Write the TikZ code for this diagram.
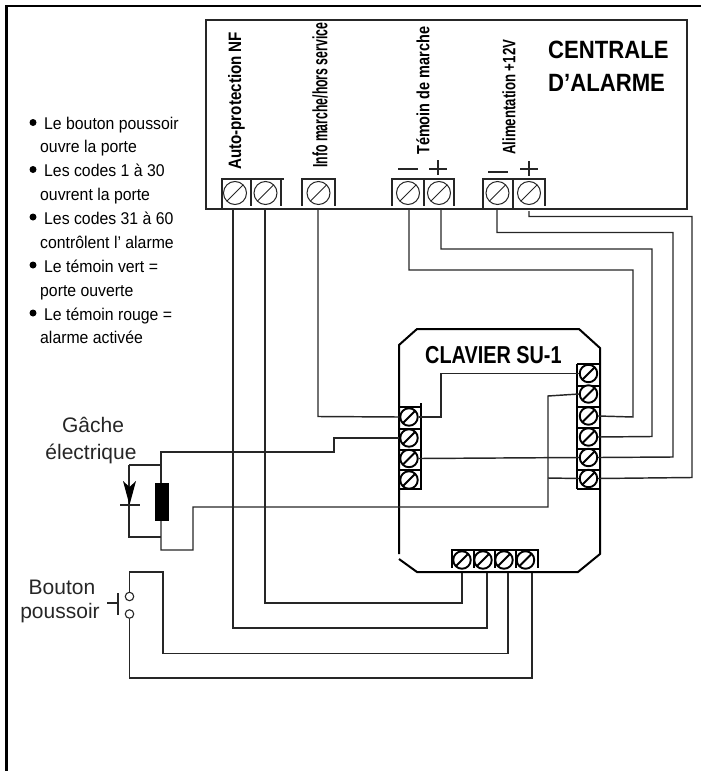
\documentclass[tikz,border=0pt]{standalone}
\usepackage{graphicx}
\usepackage{fontspec}
\setmainfont{Liberation Sans}
\newfontfamily\narrowf[FakeStretch=0.93]{Liberation Sans}
\newfontfamily\titlef[FakeStretch=0.885]{Liberation Sans Bold}
\newfontfamily\clavf[FakeStretch=0.81]{Liberation Sans Bold}
\newfontfamily\vertf{Liberation Sans Bold}
\tikzset{
  wire/.style={line width=1.45pt,draw=black!85},
  thinbox/.style={line width=1.2pt,draw=black!85},
  screw/.style={circle,draw=black!85,line width=1pt,minimum size=23pt,inner sep=0pt,
    path picture={\draw[line width=1pt,draw=black!85] (path picture bounding box.south west) -- (path picture bounding box.north east);}},
  kscrew/.style={circle,draw=black,fill=white,line width=1.9pt,minimum size=17.5pt,inner sep=0pt,
    path picture={\draw[line width=2pt] (path picture bounding box.south west) -- (path picture bounding box.north east);}},
  vlabel/.style={rotate=90,anchor=west,inner sep=0pt,font=\vertf},
  bullettext/.style={anchor=base west,inner sep=0pt,font=\narrowf\fontsize{17}{17}\selectfont},
  bigtitle/.style={anchor=base west,inner sep=0pt,font=\titlef\fontsize{25}{25}\selectfont},
  sidelabel/.style={anchor=base,inner sep=0pt,font=\fontsize{21}{21}\selectfont,text=black!85},
  dot/.style={circle,fill=black,minimum size=7pt,inner sep=0pt},
  contact/.style={circle,draw=black!85,line width=1.1pt,minimum size=8.5pt,inner sep=0pt},
  coil/.style={rectangle,fill=black,minimum width=14pt,minimum height=38pt,inner sep=0pt},
}
\begin{document}
\begin{tikzpicture}[x=1pt,y=-1pt]
\useasboundingbox (0,0) rectangle (701,771);
% page frame
\coordinate (fa) at (701,6);
\coordinate (fb) at (6.5,6);
\coordinate (fc) at (6.5,771);
\draw[line width=2.8pt] (fa) -- (fb) -- (fc);

% centrale box
\node[thinbox,rectangle,minimum width=481pt,minimum height=189pt,inner sep=0pt] (centrale) at (446.5,114.5) {};
\node[bigtitle] (t1) at (548,58) {CENTRALE};
\node[bigtitle] (t2) at (548,91) {D’ALARME};

% vertical labels
\node[vlabel] (v1) at (236.5,170) {\resizebox{138pt}{13pt}{Auto-protection NF}};
\node[vlabel] (v2) at (320,168) {\resizebox{145pt}{15pt}{Info marche/hors service}};
\node[vlabel] (v3) at (423,155) {\resizebox{128pt}{13pt}{Témoin de marche}};
\node[vlabel] (v4) at (509,155) {\resizebox{115pt}{13pt}{Alimentation +12V}};

% centrale terminals
\draw[thinbox] (222,209) |- (284,179) (251,179) -- (251,206) (281,179) -- (281,206);
\draw[thinbox] (302,206) |- (335,179) -- (335,206);
\draw[thinbox] (392,206) |- (455,179) (424,179) -- (424,206) (454,179) -- (454,206);
\draw[thinbox] (483,209) |- (546,179) (513,179) -- (513,209) (545,179) -- (545,206);
\node[screw] (c1) at (235,193) {};
\node[screw] (c2) at (265.5,193) {};
\node[screw] (c3) at (318.5,193) {};
\node[screw] (c4) at (408,193) {};
\node[screw] (c5) at (439,193) {};
\node[screw] (c6) at (497.5,193) {};
\node[screw] (c7) at (529,193) {};
% polarity marks
\draw[thinbox] (398,169) -- (418,169) (429,169) -- (447,169) (438,160) -- (438,175);
\draw[thinbox] (488,172) -- (508,172) (520,169) -- (538,169) (529,161) -- (529,176);

% wire starts
\coordinate (w1) at (233,209);
\coordinate (w2) at (265,209);
\coordinate (w3) at (318,209);
\coordinate (w4) at (409,209);
\coordinate (w5) at (441,209);
\coordinate (w6) at (497,209);
\coordinate (w7) at (529,211);

% clavier outline
\draw[line width=2pt] (399,554) -- (399,345) -- (417,329) -- (579,329) -- (600,348) -- (600,554) -- (578,572) -- (417,572) -- (399,559);
\node[anchor=base west,inner sep=0pt,font=\clavf\fontsize{24.5}{24.5}\selectfont] (clav) at (425,363) {CLAVIER SU-1};

% clavier left strip
\draw[line width=2pt] (399,407) -- (421,407) (420.5,403) -- (420.5,489) (399,428.5) -- (421,428.5) (399,449.5) -- (421,449.5) (399,470) -- (421,470) (399,489) -- (422,489);
\node[kscrew] (l1) at (409,417) {};
\node[kscrew] (l2) at (409,438) {};
\node[kscrew] (l3) at (409,458.5) {};
\node[kscrew] (l4) at (409,480) {};
% clavier right strip
\draw[line width=2pt] (577,364) -- (577,489) (577,364) -- (600,364) (577,386) -- (600,386) (577,407) -- (600,407) (577,428) -- (600,428) (577,449) -- (600,449) (577,470) -- (600,470) (577,489) -- (600,489);
\node[kscrew] (r1) at (588.5,373.5) {};
\node[kscrew] (r2) at (588.5,394) {};
\node[kscrew] (r3) at (588.5,416) {};
\node[kscrew] (r4) at (588.5,437) {};
\node[kscrew] (r5) at (588.5,457.5) {};
\node[kscrew] (r6) at (588.5,478.5) {};
% clavier bottom strip
\draw[line width=2pt] (452,568) |- (538,550) -- (538,568) (474,550) -- (474,568) (495,550) -- (495,568) (516,550) -- (516,568);
\node[kscrew] (b1) at (462,560) {};
\node[kscrew] (b2) at (483,560) {};
\node[kscrew] (b3) at (504,560) {};
\node[kscrew] (b4) at (525.5,560) {};
\coordinate (b1s) at (462,573);
\coordinate (b2s) at (487,573);
\coordinate (b3s) at (508,573);
\coordinate (b4s) at (532,573);

% strike
\node[sidelabel] (g1) at (93,432) {Gâche};
\node[sidelabel] (g2) at (91,459) {électrique};
\node[coil] (coil) at (162,502) {};
\coordinate (d1) at (129,465);
\coordinate (d2) at (129,537);
\coordinate (n1) at (161,465);
\coordinate (n2) at (161,537);
\draw[wire] (d1) -- (n1) (d1) -- (d2) -- (n2);
\fill (123,481) -- (129.5,487) -- (136,481) -- (129.5,505) -- cycle;
\draw[wire] (120,505) -- (140,505);
\draw[wire] (l2.west) -- (334,438) -- (334,452) -- (161,452) -- (coil.north -| 161,0);
\draw[wire] (coil.south -| 161,0) -- (161,550) -- (193,550) -- (193,507) -- (548,507) -- (548,396) -- (r2.west);
\draw[wire] (548,478) -- (r6.west);

% push button
\node[sidelabel] (p1) at (62,594) {Bouton};
\node[sidelabel] (p2) at (60,618) {poussoir};
\node[contact] (k1) at (129.5,596.5) {};
\node[contact] (k2) at (129.5,614) {};
\draw[thinbox] (118,593) -- (118,615) (107,603) -- (118,603);
\draw[wire] (k1.north) -- (129.5,572) -- (163,572) -- (163,653.5) -- (508,653.5) -- (b3s);
\draw[wire] (k2.south) -- (129.5,678) -- (532,678) -- (b4s);

% wires to the bottom strip
\draw[wire] (w1) -- (233,628) -- (487,628) -- (b2s);
\draw[wire] (w2) -- (265,603) -- (462,603) -- (b1s);
% wire to left strip
\draw[wire] (w3) -- (318,416.5) -- (l1.west);
% internal wires
\draw[wire] (l1.east) -- (441,417) -- (441,373.5) -- (r1.west);
\draw[wire] (l3.east) -- (r5.west);
% wires to the right strip
\draw[wire] (w4) -- (409,270) -- (633,270) -- (633,417) -- (r3.east);
\draw[wire] (w5) -- (441,249) -- (652,249) -- (652,436.5) -- (r4.east);
\draw[wire] (w6) -- (497,232.5) -- (673,232.5) -- (673,457) -- (r5.east);
\draw[wire] (w7) -- (529,216.5) -- (692,216.5) -- (692,477.5) -- (r6.east);

% notes
\node[dot] (n1d) at (33,122.5) {};
\node[dot] (n2d) at (33,169.5) {};
\node[dot] (n3d) at (33,217) {};
\node[dot] (n4d) at (33,265) {};
\node[dot] (n5d) at (33,313) {};
\node[bullettext] (a1) at (44,129) {Le bouton poussoir};
\node[bullettext] (a2) at (40,152) {ouvre la porte};
\node[bullettext] (a3) at (44,176) {Les codes 1 à 30};
\node[bullettext] (a4) at (40,200) {ouvrent la porte};
\node[bullettext] (a5) at (44,224) {Les codes 31 à 60};
\node[bullettext] (a6) at (40,248) {contrôlent l’ alarme};
\node[bullettext] (a7) at (44,272) {Le témoin vert =};
\node[bullettext] (a8) at (40,296) {porte ouverte};
\node[bullettext] (a9) at (44,320) {Le témoin rouge =};
\node[bullettext] (a10) at (40,343) {alarme activée};
\end{tikzpicture}
\end{document}
